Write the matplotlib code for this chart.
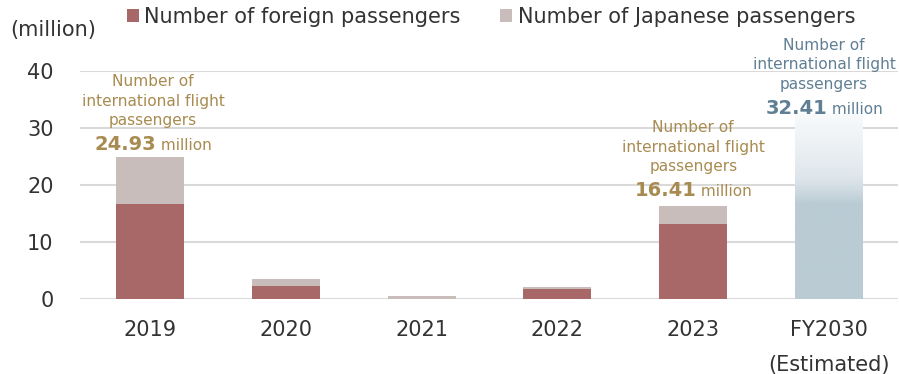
import numpy as np
import matplotlib
matplotlib.use("Agg")
import matplotlib.pyplot as plt
import matplotlib.transforms as mtrans
from matplotlib.colors import LinearSegmentedColormap
from matplotlib.transforms import offset_copy

plt.rcParams['font.family'] = ['DejaVu Sans']

categories = ["2019", "2020", "2021", "2022", "2023", "FY2030\n(Estimated)"]
foreign = [16.6, 2.3, 0.1, 1.85, 13.1]
japanese = [8.33, 1.3, 0.4, 0.35, 3.31]
totals = [24.93, None, None, None, 16.41, 32.41]
estimate_2030 = 32.41
yticks = [0, 10, 20, 30, 40]

c_foreign = "#a96868"
c_japanese = "#c9bdbc"
c_gold = "#a88b50"
c_blue = "#5f7f94"
c_text = "#333333"

fig = plt.figure(figsize=(8.99, 3.74), dpi=100)
ax = fig.add_axes([80/899, (374-299.3)/374, 818/899, 228.6/374])

x = np.arange(len(categories))
w = 0.5
n = len(foreign)
ax.bar(x[:n], foreign, w, color=c_foreign, zorder=3, label="Number of foreign passengers")
ax.bar(x[:n], japanese, w, bottom=foreign, color=c_japanese, zorder=3,
       label="Number of Japanese passengers")

# FY2030 gradient bar
bars = ax.bar([x[5]], [estimate_2030], w, color="none", zorder=3)
patch = bars[0]
grad_cmap = LinearSegmentedColormap.from_list(
    "g", [(0.0, "#bacbd4"), (0.51, "#bacbd4"), (0.58, "#cdd9e0"), (0.66, "#dfe7ec"),
          (0.85, "#eef2f5"), (1.0, "#f8fafb")])
grad = np.linspace(0, 1, 256).reshape(-1, 1)
im = ax.imshow(grad, cmap=grad_cmap, origin="lower", aspect="auto",
               extent=[x[5]-w/2, x[5]+w/2, 0, estimate_2030], zorder=3)
im.set_clip_path(patch)

ax.set_xlim(-0.515, 5.508)
ax.set_ylim(0, 40)
ax.set_yticks(yticks)
ax.set_xticks(x)
ax.set_xticklabels(categories, fontsize=15, color=c_text, linespacing=1.96)
ax.tick_params(axis="y", labelsize=15, colors=c_text, length=0, pad=19)
ax.tick_params(axis="x", length=0, pad=15, colors=c_text)
ax.grid(axis="y", color="#d9d9d9", linewidth=1.5, zorder=0)
ax.set_axisbelow(True)
for s in ax.spines.values():
    s.set_visible(False)

fig.text(10/899, 1 - 30/374, "(million)", fontsize=15, color=c_text, va="center", ha="left")

leg = fig.legend(loc="center left", bbox_to_anchor=(127/899, 1 - 17/374), ncol=2,
                 frameon=False, fontsize=15, handlelength=0.58, handleheight=0.58,
                 handletextpad=0.25, columnspacing=1.9, borderaxespad=0, borderpad=0)
for t in leg.get_texts():
    t.set_color(c_text)

tr = mtrans.blended_transform_factory(ax.transData, fig.transFigure)

def annotate(i, color, y_line1, value, dx=0):
    line_h = 19.5
    labels = ["Number of", "international flight", "passengers"]
    for k, s in enumerate(labels):
        yy = 1 - (y_line1 + k*line_h)/374
        ax.text(x[i], yy, s, transform=offset_copy(tr, fig=fig, x=dx, units="dots"),
                ha="center", va="center", fontsize=11.1, color=color, clip_on=False)
    yv = 1 - (y_line1 + 3*line_h + 4)/374
    t1 = ax.text(x[i], yv, f"{value:.2f}", transform=tr, ha="left", va="baseline",
                 fontsize=14, fontweight="bold", color=color, clip_on=False)
    t2 = ax.text(x[i], yv, " million", transform=tr, ha="left", va="baseline",
                 fontsize=11, color=color, clip_on=False)
    return t1, t2, dx

pairs = []
pairs.append(annotate(0, c_gold, 82, totals[0], 3))
pairs.append(annotate(4, c_gold, 128, totals[4], 0))
pairs.append(annotate(5, c_blue, 45, totals[5], -5))

fig.canvas.draw()
r = fig.canvas.get_renderer()
for t1, t2, dx in pairs:
    w1 = t1.get_window_extent(r).width
    w2 = t2.get_window_extent(r).width
    tot = w1 + w2
    t1.set_transform(offset_copy(tr, fig=fig, x=dx - tot/2, y=-6, units="dots"))
    t2.set_transform(offset_copy(tr, fig=fig, x=dx - tot/2 + w1, y=-6, units="dots"))

fig.savefig("out.png", dpi=100)
